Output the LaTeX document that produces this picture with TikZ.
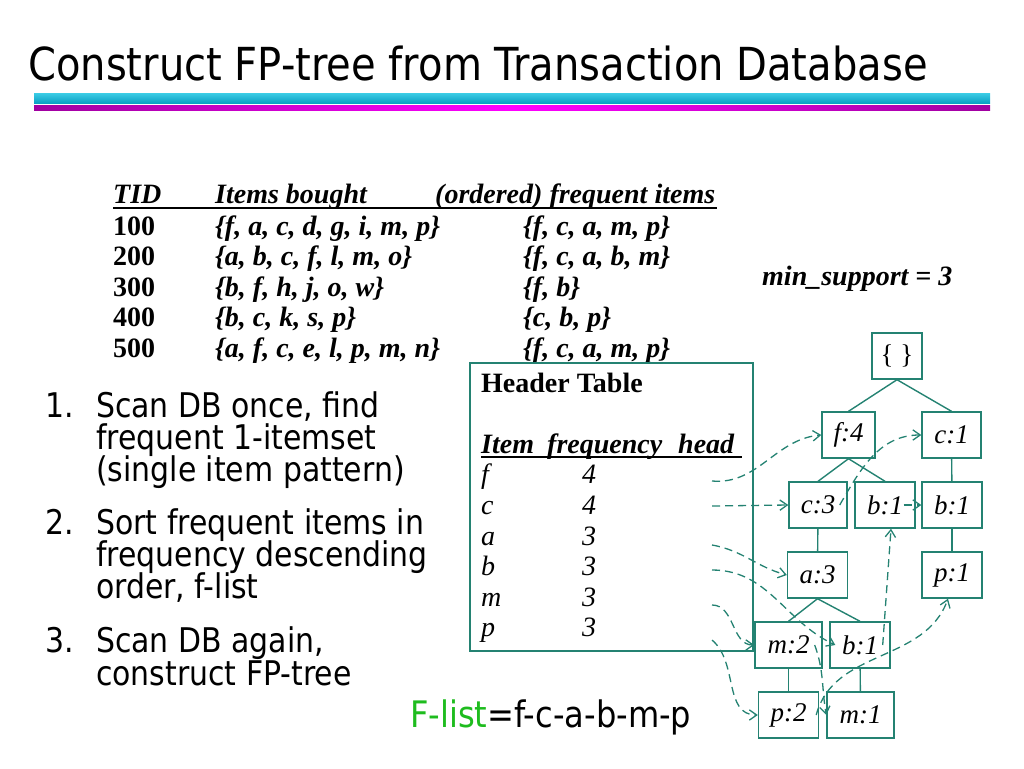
\documentclass[tikz,border=0pt]{standalone}
\usepackage{fontspec}
\setmainfont{Liberation Serif}
\newfontfamily\tahoma[FakeStretch=0.88]{DejaVu Sans}
\usetikzlibrary{arrows.meta,positioning}
\definecolor{treeteal}{RGB}{36,130,114}
\definecolor{cyantop}{RGB}{60,205,230}
\definecolor{cyanbot}{RGB}{10,160,195}
\definecolor{magend}{RGB}{160,0,160}
\definecolor{magmid}{RGB}{255,0,255}
\definecolor{flistgreen}{RGB}{30,188,30}

\tikzset{
  fpnode/.style={draw=treeteal, line width=1.4pt, minimum height=46pt, inner sep=0pt,
    font=\fontsize{27}{27}\selectfont\itshape},
  treeedge/.style={draw=treeteal, line width=1.4pt},
  link/.style={draw=treeteal, line width=1.3pt, dash pattern=on 8pt off 5pt,
    -{Straight Barb[angle=70:9pt]}},
  dbtext/.style={anchor=base west, inner sep=0pt, font=\fontsize{28}{28}\selectfont\bfseries\itshape},
  httext/.style={anchor=base west, inner sep=0pt, font=\fontsize{28}{28}\selectfont\itshape},
  steptext/.style={anchor=base west, inner sep=0pt, font=\tahoma\fontsize{34}{34}\selectfont},
}

\begin{document}
\begin{tikzpicture}[x=1pt,y=-1pt]
\useasboundingbox (0,0) rectangle (1024,768);

% title and bars
\node[anchor=base west, inner sep=0pt, font=\tahoma\fontsize{45.5}{45.5}\selectfont] (title) at (28,80)
  {Construct FP-tree from Transaction Database};
\shade[top color=cyantop, bottom color=cyanbot] (34,93) rectangle (990,103);
\shade[left color=magend, right color=magend, middle color=magmid] (34,105.5) rectangle (990,110.5);

% transaction database
\node[dbtext] (tidh) at (113,203) {TID};
\node[dbtext] (boughth) at (215,203) {Items bought};
\node[dbtext] (orderh) at (435,203) {(ordered) frequent items};
\draw[line width=1.5pt] (113,208) -- (717,208);
\foreach \tid/\items/\freq [count=\i] in {
    100/{f, a, c, d, g, i, m, p}/{f, c, a, m, p},
    200/{a, b, c, f, l, m, o}/{f, c, a, b, m},
    300/{b, f, h, j, o, w}/{f, b},
    400/{b, c, k, s, p}/{c, b, p},
    500/{a, f, c, e, l, p, m, n}/{f, c, a, m, p}} {
  \node[dbtext, font=\fontsize{28}{28}\selectfont\bfseries] (tid\i) at (113,235+30.5*\i-30.5) {\tid};
  \node[dbtext] (items\i) at (215,235+30.5*\i-30.5) {\{\items\}};
  \node[dbtext] (freq\i) at (523,235+30.5*\i-30.5) {\{\freq\}};
}
\node[dbtext] (minsup) at (762,285) {min\_support = 3};

% header table
\node[draw=treeteal, line width=1.4pt, minimum width=283pt, minimum height=288pt] (htable) at (611.5,507) {};
\node[dbtext, font=\fontsize{28}{28}\selectfont\bfseries] (htitle) at (481,392) {Header Table};
\node[dbtext] (hitem) at (481,453) {Item};
\node[dbtext] (hfreq) at (547,453) {frequency};
\node[dbtext] (hhead) at (678,453) {head};
\draw[line width=1.5pt] (481,457) -- (742,457);
\foreach \it/\n/\y in {f/4/483, c/4/514, a/3/545, b/3/575, m/3/606, p/3/636} {
  \node[httext] (hi\it) at (481,\y) {\it};
  \node[httext] (hn\it) at (582,\y) {\n};
}

% FP-tree
\node[fpnode, minimum width=50pt, font=\fontsize{27}{27}\selectfont] (root) at (897,356) {\{\ \}};
\node[fpnode, minimum width=53pt] (f4) at (848.5,435) {f:4};
\node[fpnode, minimum width=59pt] (c1) at (951.5,435) {c:1};
\node[fpnode, minimum width=58pt] (c3) at (818,505) {c:3};
\node[fpnode, minimum width=60pt] (b1m) at (885,505) {b:1};
\node[fpnode, minimum width=60pt] (b1r) at (952,505) {b:1};
\node[fpnode, minimum width=60pt] (a3) at (817.5,575) {a:3};
\node[fpnode, minimum width=60pt] (p1) at (952,575) {p:1};
\node[fpnode, minimum width=67pt] (m2) at (788.5,645) {m:2};
\node[fpnode, minimum width=60pt] (b1l) at (860,645) {b:1};
\node[fpnode, minimum width=60pt] (p2) at (788.5,715) {p:2};
\node[fpnode, minimum width=67pt] (m1) at (860.5,715) {m:1};

\draw[treeedge] (root.south) -- (f4.north);
\draw[treeedge] (root.south) -- (c1.north);
\draw[treeedge] (f4.south) -- (c3.north);
\draw[treeedge] (f4.south) -- (b1m.north);
\draw[treeedge] (c1) -- (b1r);
\draw[treeedge] (c3) -- (a3);
\draw[treeedge] (b1r) -- (p1);
\draw[treeedge] (a3.south) -- (m2.north);
\draw[treeedge] (a3.south) -- (b1l.north);
\draw[treeedge] (m2) -- (p2);
\draw[treeedge] (b1l) -- (m1);

% node-links
\coordinate (lf) at (712,481);
\coordinate (lc) at (712,506);
\coordinate (la) at (712,545);
\coordinate (lb) at (712,570);
\coordinate (lm) at (712,605);
\coordinate (lp) at (712,640);
\draw[link] (lf) to[out=-5,in=185] (f4.west);
\draw[link] (lc) -- (c3.west);
\draw[link] ([xshift=-8pt]c3.east) to[out=60,in=180] (c1.west);
\draw[link] (la) to[out=-10,in=165] (a3.west);
\draw[link] (lb) to[out=0,in=155] ([xshift=6pt]b1l.west);
\draw[link] ([xshift=-8pt]b1l.east) -- ([xshift=6pt]b1m.south);
\draw[link] ([xshift=-12pt]b1m.east) -- (b1r.west);
\draw[link] (lm) to[out=0,in=180] (m2.west);
\draw[link] ([xshift=-8pt]m2.east) to[out=-70,in=100] (m1.west);
\draw[link] (lp) to[out=-40,in=180] (p2.west);
\draw[link] ([xshift=-3pt]p2.east) to[out=75,in=-110] ([xshift=-4pt]p1.south);

% steps
\foreach \y/\n in {417/1, 534/2, 652/3}
  \node[steptext] (num\n) at (45,\y) {\n.};
\foreach \y/\txt [count=\k] in {417/{Scan DB once, find}, 449/frequent 1-itemset,
    481/(single item pattern), 534/Sort frequent items in, 566/frequency descending,
    598/{order, f-list}, 652/{Scan DB again,}, 685/construct FP-tree}
  \node[steptext] (line\k) at (96,\y) {\txt};
\node[steptext, font=\tahoma\fontsize{36.5}{36.5}\selectfont] (flist) at (410,727)
  {\textcolor{flistgreen}{F-list}=f-c-a-b-m-p};
\end{tikzpicture}
\end{document}
